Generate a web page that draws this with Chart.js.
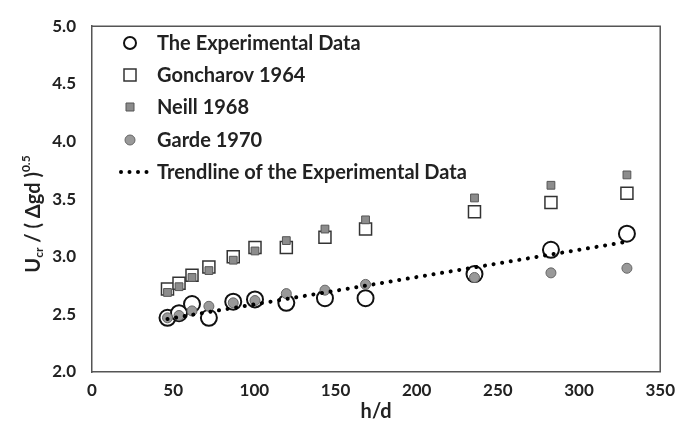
<!DOCTYPE html>
<html>
<head>
<meta charset="utf-8">
<script src="https://cdn.jsdelivr.net/npm/chart.js@4.4.1/dist/chart.umd.min.js"></script>
<style>
  html, body { margin: 0; padding: 0; background: #fff; }
</style>
</head>
<body>
<canvas id="chart1" width="683" height="439"></canvas>
<script>
// h/d values shared by all data sets
const hd = [46.5, 53.6, 61.6, 72, 87, 100.4, 119.7, 143.5, 168.5, 235.6, 282.7, 329.5];
const expData = [2.47, 2.51, 2.59, 2.47, 2.61, 2.63, 2.60, 2.64, 2.64, 2.85, 3.06, 3.20];
const goncharov = [2.72, 2.77, 2.84, 2.91, 3.00, 3.08, 3.08, 3.17, 3.24, 3.39, 3.47, 3.55];
const neill = [2.69, 2.74, 2.82, 2.88, 2.97, 3.05, 3.14, 3.24, 3.32, 3.51, 3.62, 3.71];
const garde = [2.47, 2.49, 2.53, 2.57, 2.60, 2.62, 2.68, 2.71, 2.76, 2.82, 2.86, 2.90];
// trendline end points
const trendX = [46.5, 329.5];
const trendY = [2.46, 3.13];

const xTicks = [0, 50, 100, 150, 200, 250, 300, 350];
const yTicks = [2.0, 2.5, 3.0, 3.5, 4.0, 4.5, 5.0];

const FONT = 'Lato';

function pts(xs, ys) {
  return xs.map((x, i) => ({ x: x, y: ys[i] }));
}

// draws legend inside plot, frame, and y title with sub/superscript
const extras = {
  id: 'extras',
  afterDraw(chart) {
    const ctx = chart.ctx;
    const a = chart.chartArea;
    ctx.save();
    ctx.strokeStyle = '#555';
    ctx.lineWidth = 1.5;
    ctx.beginPath();
    ctx.moveTo(a.left, a.top);
    ctx.lineTo(a.right, a.top);
    ctx.lineTo(a.right, a.bottom);
    ctx.stroke();

    // legend
    ctx.font = 'bold 20px ' + FONT;
    ctx.textBaseline = 'middle';
    ctx.textAlign = 'left';
    const rowY = [43, 75, 107, 140, 172];
    chart.data.datasets.forEach((ds, i) => {
      const y = rowY[i];
      const mx = 130;
      if (ds.showLine) {
        ctx.fillStyle = '#000';
        for (let x = 121; x <= 153; x += 8.5) {
          ctx.beginPath();
          ctx.arc(x, y, 2, 0, Math.PI * 2);
          ctx.fill();
        }
      } else {
        ctx.fillStyle = ds.backgroundColor;
        ctx.strokeStyle = ds.borderColor;
        ctx.lineWidth = ds.borderWidth;
        const r = ds.legendR;
        ctx.beginPath();
        if (ds.pointStyle === 'rect') {
          ctx.rect(mx - r, y - r, 2 * r, 2 * r);
        } else {
          ctx.arc(mx, y, r, 0, Math.PI * 2);
        }
        ctx.fill();
        ctx.stroke();
      }
      ctx.fillStyle = '#222';
      ctx.fillText(ds.label, 157, y + 1);
    });

    // y axis title: U_cr / ( Δgd )^0.5
    ctx.translate(34, 214);
    ctx.rotate(-Math.PI / 2);
    const big = 'bold 20px ' + FONT;
    const small = 'bold 12px ' + FONT;
    const parts = [
      { t: 'U', f: big, dy: 0 },
      { t: 'cr', f: small, dy: 5 },
      { t: ' / ( \u0394gd )', f: big, dy: 0 },
      { t: '0.5', f: small, dy: -8 }
    ];
    let total = 0;
    parts.forEach(p => { ctx.font = p.f; p.w = ctx.measureText(p.t).width; total += p.w; });
    let x = -total / 2;
    ctx.fillStyle = '#222';
    ctx.textBaseline = 'middle';
    parts.forEach(p => {
      ctx.font = p.f;
      ctx.fillText(p.t, x, p.dy);
      x += p.w;
    });
    ctx.restore();
  }
};

const ctx1 = document.getElementById('chart1').getContext('2d');
const chart1 = new Chart(ctx1, {
  type: 'scatter',
  data: {
    datasets: [{
      label: 'The Experimental Data',
      data: pts(hd, expData),
      pointStyle: 'circle',
      pointRadius: 8,
      legendR: 6,
      backgroundColor: '#fff',
      borderColor: '#111',
      borderWidth: 2,
      order: 4
    }, {
      label: 'Goncharov 1964',
      data: pts(hd, goncharov),
      pointStyle: 'rect',
      pointRadius: 8.5,
      legendR: 6,
      backgroundColor: '#fff',
      borderColor: '#333',
      borderWidth: 1.5,
      order: 3
    }, {
      label: 'Neill 1968',
      data: pts(hd, neill),
      pointStyle: 'rect',
      pointRadius: 5.5,
      legendR: 4,
      backgroundColor: '#8c8c8c',
      borderColor: '#555',
      borderWidth: 1,
      order: 2
    }, {
      label: 'Garde 1970',
      data: pts(hd, garde),
      pointStyle: 'circle',
      pointRadius: 5,
      legendR: 5,
      backgroundColor: '#999',
      borderColor: '#666',
      borderWidth: 1,
      order: 1
    }, {
      label: 'Trendline of the Experimental Data',
      data: pts(trendX, trendY),
      showLine: true,
      pointRadius: 0,
      borderColor: '#000',
      borderWidth: 4,
      borderCapStyle: 'round',
      borderDash: [0.1, 8.6],
      order: 0
    }]
  },
  options: {
    responsive: false,
    devicePixelRatio: 1,
    animation: false,
    layout: { padding: { top: 20, right: 17, left: 0, bottom: 0 } },
    plugins: {
      legend: { display: false },
      tooltip: { enabled: false }
    },
    scales: {
      x: {
        type: 'linear',
        min: 0,
        max: 350,
        afterBuildTicks: s => { s.ticks = xTicks.map(v => ({ value: v })); },
        afterFit: s => { s.height = 67; },
        grid: { display: false, drawTicks: false },
        border: { display: true, color: '#555', width: 1.5 },
        ticks: {
          color: '#222',
          padding: 8,
          font: { family: FONT, size: 17, weight: 'bold' }
        },
        title: {
          display: true,
          text: 'h/d',
          color: '#222',
          padding: { top: 6, bottom: 15 },
          font: { family: FONT, size: 20, weight: 'bold' }
        }
      },
      y: {
        type: 'linear',
        min: 2,
        max: 5,
        afterBuildTicks: s => { s.ticks = yTicks.map(v => ({ value: v })); },
        afterFit: s => { s.width = 92; },
        grid: { display: false, drawTicks: false },
        border: { display: true, color: '#555', width: 1.5 },
        ticks: {
          color: '#222',
          padding: 16,
          font: { family: FONT, size: 17, weight: 'bold' },
          callback: v => v.toFixed(1)
        }
      }
    }
  },
  plugins: [extras]
});
</script>
</body>
</html>
